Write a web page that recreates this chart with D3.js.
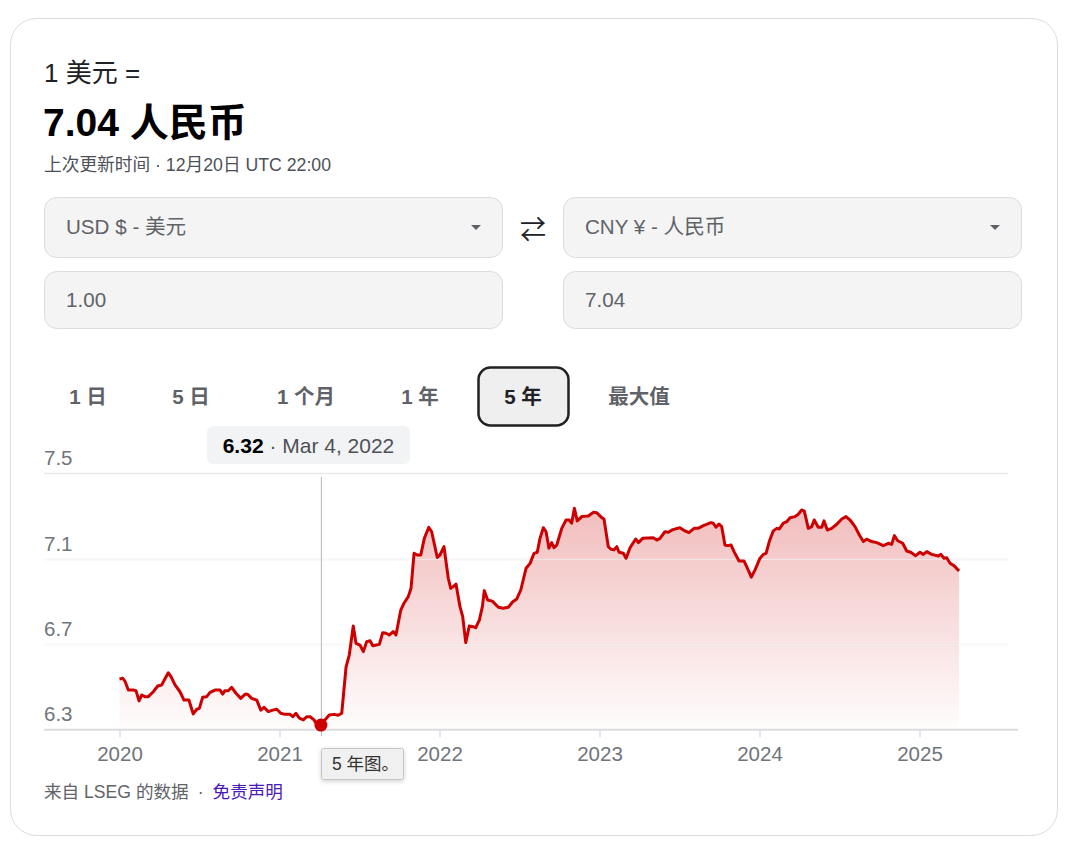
<!DOCTYPE html>
<html>
<head>
<meta charset="utf-8">
<title>美元 / 人民币 5 年走势</title>
<script src="https://d3js.org/d3.v7.min.js"></script>
<style>
  body { margin: 0; background: #fff; }
  text { font-family: "Liberation Sans", Arial, "Noto Sans CJK SC", sans-serif; }
</style>
</head>
<body>
<script>
// --- data (x in fractional axis years) ---
const years = [
  2020.000, 2020.020, 2020.034, 2020.055, 2020.086, 2020.103, 2020.122, 2020.139, 2020.159, 2020.180,
  2020.211, 2020.239, 2020.264, 2020.280, 2020.305, 2020.322, 2020.347, 2020.378, 2020.403, 2020.434,
  2020.461, 2020.483, 2020.499, 2020.520, 2020.545, 2020.566, 2020.597, 2020.628, 2020.645, 2020.659,
  2020.680, 2020.701, 2020.728, 2020.758, 2020.784, 2020.801, 2020.826, 2020.858, 2020.883, 2020.903,
  2020.930, 2020.958, 2020.983, 2021.008, 2021.034, 2021.066, 2021.083, 2021.103, 2021.124, 2021.149,
  2021.170, 2021.191, 2021.216, 2021.236, 2021.259, 2021.284, 2021.311, 2021.341, 2021.367, 2021.389,
  2021.416, 2021.436, 2021.461, 2021.478, 2021.503, 2021.524, 2021.545, 2021.566, 2021.583, 2021.624,
  2021.645, 2021.666, 2021.686, 2021.711, 2021.728, 2021.758, 2021.778, 2021.805, 2021.822, 2021.841,
  2021.861, 2021.883, 2021.905, 2021.933, 2021.951, 2021.986, 2022.003, 2022.028, 2022.055, 2022.070,
  2022.091, 2022.103, 2022.128, 2022.145, 2022.164, 2022.186, 2022.211, 2022.226, 2022.249, 2022.268,
  2022.280, 2022.301, 2022.330, 2022.368, 2022.399, 2022.430, 2022.458, 2022.483, 2022.508, 2022.541,
  2022.566, 2022.591, 2022.611, 2022.628, 2022.649, 2022.666, 2022.684, 2022.701, 2022.716, 2022.733,
  2022.764, 2022.791, 2022.811, 2022.826, 2022.843, 2022.861, 2022.889, 2022.930, 2022.961, 2022.983,
  2023.014, 2023.028, 2023.055, 2023.072, 2023.091, 2023.108, 2023.122, 2023.149, 2023.166, 2023.191,
  2023.226, 2023.243, 2023.270, 2023.336, 2023.358, 2023.378, 2023.409, 2023.430, 2023.458, 2023.503,
  2023.534, 2023.559, 2023.591, 2023.617, 2023.649, 2023.697, 2023.711, 2023.728, 2023.747, 2023.764,
  2023.784, 2023.801, 2023.822, 2023.841, 2023.872, 2023.903, 2023.924, 2023.949, 2023.972, 2024.003,
  2024.024, 2024.041, 2024.061, 2024.086, 2024.108, 2024.124, 2024.149, 2024.170, 2024.191, 2024.222,
  2024.242, 2024.264, 2024.280, 2024.305, 2024.326, 2024.342, 2024.367, 2024.389, 2024.403, 2024.424,
  2024.451, 2024.483, 2024.514, 2024.541, 2024.566, 2024.597, 2024.624, 2024.649, 2024.670, 2024.701,
  2024.733, 2024.774, 2024.805, 2024.826, 2024.843, 2024.864, 2024.895, 2024.920, 2024.945, 2024.976,
  2025.003, 2025.024, 2025.045, 2025.076, 2025.118, 2025.134, 2025.153, 2025.170, 2025.191, 2025.217,
  2025.247
];
const rates = [
  6.536, 6.539, 6.526, 6.484, 6.484, 6.481, 6.433, 6.461, 6.453, 6.453,
  6.476, 6.503, 6.508, 6.531, 6.565, 6.547, 6.508, 6.476, 6.437, 6.437,
  6.372, 6.394, 6.398, 6.450, 6.453, 6.473, 6.484, 6.484, 6.465, 6.481,
  6.481, 6.497, 6.469, 6.445, 6.464, 6.464, 6.445, 6.437, 6.390, 6.403,
  6.383, 6.390, 6.394, 6.375, 6.370, 6.370, 6.359, 6.375, 6.352, 6.344,
  6.359, 6.359, 6.344, 6.320, 6.320, 6.344, 6.367, 6.370, 6.366, 6.375,
  6.593, 6.648, 6.784, 6.703, 6.695, 6.664, 6.711, 6.715, 6.692, 6.698,
  6.753, 6.750, 6.742, 6.758, 6.742, 6.859, 6.891, 6.922, 6.961, 7.125,
  7.117, 7.117, 7.195, 7.247, 7.226, 7.106, 7.117, 7.156, 7.008, 6.961,
  6.972, 6.981, 6.875, 6.828, 6.706, 6.784, 6.781, 6.776, 6.812, 6.875,
  6.950, 6.906, 6.901, 6.872, 6.867, 6.872, 6.898, 6.911, 6.953, 7.055,
  7.078, 7.125, 7.130, 7.195, 7.245, 7.226, 7.149, 7.175, 7.151, 7.164,
  7.242, 7.281, 7.281, 7.266, 7.336, 7.277, 7.297, 7.300, 7.317, 7.315,
  7.292, 7.286, 7.156, 7.144, 7.141, 7.156, 7.130, 7.125, 7.102, 7.151,
  7.192, 7.175, 7.195, 7.198, 7.187, 7.195, 7.226, 7.224, 7.236, 7.245,
  7.230, 7.222, 7.242, 7.242, 7.255, 7.269, 7.266, 7.247, 7.262, 7.250,
  7.164, 7.161, 7.164, 7.133, 7.089, 7.089, 7.055, 7.013, 7.047, 7.102,
  7.120, 7.125, 7.180, 7.230, 7.242, 7.239, 7.266, 7.273, 7.292, 7.297,
  7.308, 7.328, 7.323, 7.242, 7.250, 7.281, 7.247, 7.247, 7.277, 7.234,
  7.242, 7.261, 7.286, 7.297, 7.281, 7.250, 7.211, 7.180, 7.191, 7.180,
  7.175, 7.161, 7.172, 7.167, 7.208, 7.184, 7.172, 7.136, 7.130, 7.114,
  7.130, 7.120, 7.133, 7.120, 7.112, 7.120, 7.102, 7.104, 7.078, 7.066,
  7.042
];
const yTicks = [6.3, 6.7, 7.1, 7.5];
const xTicks = [2020, 2021, 2022, 2023, 2024, 2025];
const ranges = ["1 日", "5 日", "1 个月", "1 年", "5 年", "最大值"];
const selectedRange = "5 年";
const hoverYear = 2021.259, hoverRate = 6.32, hoverLabel = "Mar 4, 2022";
const fromCurrency = "USD $ - 美元", toCurrency = "CNY ¥ - 人民币";
const fromAmount = "1.00", toAmount = "7.04";

const data = years.map((t, i) => ({ t, v: rates[i] }));

const svg = d3.select("body").append("svg")
  .attr("width", 1080)
  .attr("height", 853);

const defs = svg.append("defs");
const shadow = defs.append("filter").attr("id", "shadow")
  .attr("x", -0.2).attr("y", -0.3).attr("width", 1.4).attr("height", 1.8);
shadow.append("feDropShadow").attr("dx", 0).attr("dy", 1.5)
  .attr("stdDeviation", 2).attr("flood-color", "#000").attr("flood-opacity", 0.18);

// card
svg.append("rect")
  .attr("x", 10.5).attr("y", 18.5).attr("width", 1047).attr("height", 817)
  .attr("rx", 26).attr("fill", "#fff").attr("stroke", "#dadce0");

// header
svg.append("text").attr("x", 44).attr("y", 82)
  .attr("font-size", 26).attr("fill", "#202124").text("1 美元 =");
svg.append("text").attr("x", 43).attr("y", 136)
  .attr("font-size", 39).attr("font-weight", "bold").attr("fill", "#000").text("7.04 人民币");
svg.append("text").attr("x", 44).attr("y", 171)
  .attr("font-size", 17.7).attr("fill", "#4d5156").text("上次更新时间 · 12月20日 UTC 22:00");

// converter boxes
const boxes = [
  { x: 44, y: 197, h: 60, label: fromCurrency, caret: true },
  { x: 563, y: 197, h: 60, label: toCurrency, caret: true },
  { x: 44, y: 271, h: 57, label: fromAmount },
  { x: 563, y: 271, h: 57, label: toAmount }
];
const box = svg.selectAll("g.box").data(boxes).join("g").attr("class", "box");
box.append("rect")
  .attr("x", d => d.x + 0.5).attr("y", d => d.y + 0.5)
  .attr("width", 458).attr("height", d => d.h)
  .attr("rx", 12).attr("fill", "#f4f4f4").attr("stroke", "#dadce0");
box.append("text")
  .attr("x", d => d.x + 22).attr("y", d => d.y + d.h / 2 + 7)
  .attr("font-size", 20.6).attr("fill", "#5f6368").text(d => d.label);
box.filter(d => d.caret).append("path")
  .attr("d", d => `M${d.x + 427},${d.y + 28}h10l-5,5z`)
  .attr("fill", "#5f6368");
svg.append("text").attr("x", 533).attr("y", 239).attr("text-anchor", "middle")
  .attr("font-size", 26).attr("fill", "#202124").text("⇄");

// range tabs
const tabX = [88, 191, 306, 420, 523, 639];
svg.append("rect")
  .attr("x", 478.5).attr("y", 367.5).attr("width", 90).attr("height", 58)
  .attr("rx", 12).attr("fill", "#efefef").attr("stroke", "#202124").attr("stroke-width", 2.5);
svg.selectAll("text.tab").data(ranges).join("text").attr("class", "tab")
  .attr("x", (d, i) => tabX[i]).attr("y", 403.5)
  .attr("text-anchor", "middle").attr("font-size", 20.5).attr("font-weight", "bold")
  .attr("fill", d => d === selectedRange ? "#202124" : "#5f6368")
  .text(d => d);

// chart
const x = d3.scaleLinear().domain([2020, 2025]).range([119.5, 919.5]);
const y = d3.scaleLinear().domain([6.3, 7.5]).range([729.3, 473.3]);
const left = 44, right = 1008;

const grad = defs.append("linearGradient").attr("id", "areaFill")
  .attr("gradientUnits", "userSpaceOnUse")
  .attr("x1", 0).attr("x2", 0).attr("y1", y(7.5)).attr("y2", y(6.3));
grad.append("stop").attr("offset", 0).attr("stop-color", "#cc0000").attr("stop-opacity", 0.3);
grad.append("stop").attr("offset", 1).attr("stop-color", "#cc0000").attr("stop-opacity", 0.01);

svg.selectAll("line.grid").data(yTicks.slice(1)).join("line").attr("class", "grid")
  .attr("x1", left).attr("x2", right)
  .attr("y1", d => Math.round(y(d)) + 0.5).attr("y2", d => Math.round(y(d)) + 0.5)
  .attr("stroke", "#e8eaed").attr("stroke-width", 1.5);

svg.selectAll("text.ylab").data(yTicks).join("text").attr("class", "ylab")
  .attr("x", left).attr("y", d => y(d) - 8)
  .attr("font-size", 20.5).attr("fill", "#70757a")
  .text(d => d3.format(".1f")(d));

svg.append("path").datum(data)
  .attr("d", d3.area().x(d => x(d.t)).y0(y(6.3)).y1(d => y(d.v)))
  .attr("fill", "url(#areaFill)");

// white gridline shows through the fill
svg.selectAll("line.gridover").data(yTicks.slice(1, 3)).join("line").attr("class", "gridover")
  .attr("x1", left).attr("x2", right)
  .attr("y1", d => Math.round(y(d)) + 0.5).attr("y2", d => Math.round(y(d)) + 0.5)
  .attr("stroke", "#fff").attr("stroke-opacity", 0.6).attr("stroke-width", 1.5);

// bottom axis
svg.append("line").attr("x1", left).attr("x2", 1018)
  .attr("y1", y(6.3) + 0.5).attr("y2", y(6.3) + 0.5)
  .attr("stroke", "#dadce0").attr("stroke-width", 2);
const xAxis = svg.append("g").attr("transform", `translate(0,${y(6.3) + 1})`)
  .call(d3.axisBottom(x).tickValues(xTicks).tickFormat(d3.format("d")).tickSize(7).tickPadding(9));
xAxis.select(".domain").remove();
xAxis.selectAll(".tick line").attr("stroke", "#dadce0").attr("stroke-width", 1.5);
xAxis.selectAll(".tick text").attr("font-size", 20.5).attr("fill", "#70757a")
  .attr("font-family", '"Liberation Sans", Arial, sans-serif');

// hover line
svg.append("line")
  .attr("x1", x(hoverYear) + 0.5).attr("x2", x(hoverYear) + 0.5)
  .attr("y1", 477).attr("y2", y(6.3) + 7)
  .attr("stroke", "#bdc1c6").attr("stroke-width", 1.2);

svg.append("path").datum(data)
  .attr("d", d3.line().x(d => x(d.t)).y(d => y(d.v)))
  .attr("fill", "none").attr("stroke", "#cc0000")
  .attr("stroke-width", 3).attr("stroke-linejoin", "round");

svg.append("circle").attr("cx", x(hoverYear)).attr("cy", y(hoverRate))
  .attr("r", 6.5).attr("fill", "#cc0000");

// value tooltip
svg.append("rect").attr("x", 207).attr("y", 426).attr("width", 203).attr("height", 38)
  .attr("rx", 6).attr("fill", "#f1f3f4");
const tip = svg.append("text").attr("x", 308.5).attr("y", 452.5)
  .attr("text-anchor", "middle").attr("font-size", 21);
tip.append("tspan").attr("font-weight", "bold").attr("fill", "#000").text(d3.format(".2f")(hoverRate));
tip.append("tspan").attr("fill", "#4d5156").text(" · " + hoverLabel);

// chart caption popup
const cap = svg.append("g").attr("filter", "url(#shadow)");
cap.append("rect").attr("x", 321.5).attr("y", 748.5).attr("width", 82).attr("height", 31)
  .attr("rx", 2).attr("fill", "#f0f0f0").attr("stroke", "#c6c6c6");
svg.append("text").attr("x", 332).attr("y", 770)
  .attr("font-size", 17.5).attr("fill", "#333").text("5 年图。");

// footer
const foot = svg.append("text").attr("x", 44).attr("y", 798).attr("font-size", 17.6);
foot.append("tspan").attr("fill", "#5f6368").text("来自 LSEG 的数据");
foot.append("tspan").attr("fill", "#5f6368").attr("dx", 9).text("·");
foot.append("tspan").attr("fill", "#4a1ab8").attr("dx", 9).text("免责声明");
</script>
</body>
</html>
